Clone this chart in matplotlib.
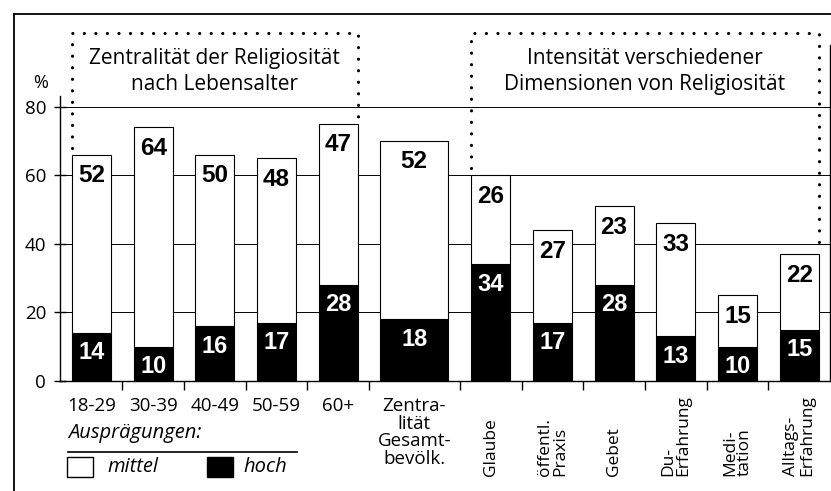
import matplotlib
matplotlib.use('Agg')
import matplotlib.pyplot as plt
from matplotlib import font_manager
from matplotlib.lines import Line2D
from matplotlib.patches import Rectangle

# data
labels = ['18-29', '30-39', '40-49', '50-59', '60+',
          'Zentra-\nlität\nGesamt-\nbevölk.',
          'Glaube', 'öffentl.\nPraxis', 'Gebet', 'Du-\nErfahrung',
          'Medi-\ntation', 'Alltags-\nErfahrung']
hoch = [14, 10, 16, 17, 28, 18, 34, 17, 28, 13, 10, 15]
mittel = [52, 64, 50, 48, 47, 52, 26, 27, 23, 33, 15, 22]
rotated = [False] * 6 + [True] * 6
group_titles = ['Zentralität der Religiosität\nnach Lebensalter',
                'Intensität verschiedener\nDimensionen von Religiosität']
legend_title = 'Ausprägungen:'
legend_names = ['mittel', 'hoch']

installed = {f.name for f in font_manager.fontManager.ttflist}
text_font = 'Open Sans' if 'Open Sans' in installed else 'DejaVu Sans'
num_font = 'Liberation Sans' if 'Liberation Sans' in installed else 'DejaVu Sans'
plt.rcParams['font.family'] = [text_font, 'DejaVu Sans']

W, H = 831, 491
def fx(px):
    return px / W
def fy(py):
    return 1 - py / H

fig = plt.figure(figsize=(W / 100, H / 100), dpi=100)
ax = fig.add_axes([fx(60), fy(381), fx(830) - fx(60), fy(20) - fy(381)])

# layout: bar centres and widths (age groups, total, dimensions)
centers = [0, 1, 2, 3, 4, 5.23, 6.47, 7.47, 8.47, 9.47, 10.47, 11.47]
widths = [0.63] * 5 + [1.1] + [0.63] * 6
totals = [h + m for h, m in zip(hoch, mittel)]

ax.bar(centers, hoch, width=widths, color='black', edgecolor='black', lw=0.8, zorder=3)
ax.bar(centers, mittel, bottom=hoch, width=widths, color='white', edgecolor='black',
       lw=0.8, zorder=3)

for c, h, t in zip(centers, hoch, totals):
    ax.annotate(str(t - h), xy=(c, t), xytext=(0, -21), textcoords='offset pixels',
                ha='center', va='center', fontsize=17.5, fontweight='bold',
                family=num_font, color='black', zorder=5)
    ax.annotate(str(h), xy=(c, h), xytext=(0, -20), textcoords='offset pixels',
                ha='center', va='center', fontsize=17, fontweight='bold',
                family=num_font, color='white', zorder=5)

# category labels
for c, lab, rot in zip(centers, labels, rotated):
    if rot:
        ax.annotate(lab, xy=(c, 0), xycoords=('data', 'axes fraction'),
                    xytext=(0, -95), textcoords='offset pixels', rotation=90,
                    rotation_mode='anchor', ha='left', va='center',
                    multialignment='left', fontsize=12.5, linespacing=0.95,
                    annotation_clip=False)
    else:
        ax.annotate(lab, xy=(c, 0), xycoords=('data', 'axes fraction'),
                    xytext=(0, -16), textcoords='offset pixels',
                    ha='center', va='top', fontsize=13.5, linespacing=0.98,
                    annotation_clip=False)

# ticks between the bars
edges = [(centers[i] + widths[i] / 2 + centers[i + 1] - widths[i + 1] / 2) / 2
         for i in range(len(centers) - 1)]
ax.set_xticks(edges)
ax.tick_params(axis='x', direction='out', length=6.5, width=1, labelbottom=False)
ax.set_xlim((60 - 91.5) / 61.7, (830 - 91.5) / 61.7)
ax.set_ylim(0, (381 - 20) / 3.43)
ax.set_yticks([0, 20, 40, 60, 80])
ax.tick_params(axis='y', direction='inout', length=8, width=1, labelsize=13.5, pad=6)
ax.yaxis.grid(True, color='black', lw=0.7)
ax.set_axisbelow(True)
for s in ['top', 'right']:
    ax.spines[s].set_visible(False)
ax.spines['left'].set_bounds(0, 83)
ax.spines['left'].set_linewidth(1)
ax.spines['bottom'].set_linewidth(1)
ax.text(-0.82, 87, '%', ha='center', va='center', fontsize=13, clip_on=False)

# dotted group boxes
dot = (0, (0.01, 3.6))
top_y = 101.5
for (i0, i1), title in zip([(0, 4), (6, 11)], group_titles):
    x0 = centers[i0] - widths[i0] / 2
    x1 = centers[i1] + widths[i1] / 2
    ax.plot([x0, x0, x1, x1], [totals[i0] + 2, top_y, top_y, totals[i1] + 2],
            ls=dot, lw=2.3, color='black', dash_capstyle='round', zorder=2,
            clip_on=False)
    ax.text((x0 + x1) / 2, 90.3, title, ha='center', va='center', fontsize=15,
            fontweight='medium', linespacing=1.3)

# legend
fig.text(fx(68), fy(433), legend_title, style='italic', va='center', fontsize=14.5)
fig.add_artist(Line2D([fx(68), fx(297)], [fy(452), fy(452)], color='black', lw=1.2))
fig.add_artist(Rectangle((fx(67), fy(477)), 26 / W, 20 / H, transform=fig.transFigure,
                         facecolor='white', edgecolor='black', lw=1))
fig.add_artist(Rectangle((fx(207), fy(477)), 26 / W, 20 / H, transform=fig.transFigure,
                         facecolor='black', edgecolor='black', lw=1))
fig.text(fx(107), fy(467), legend_names[0], style='italic', va='center', fontsize=14.5)
fig.text(fx(243), fy(467), legend_names[1], style='italic', va='center', fontsize=14.5)

# outer frame
fig.add_artist(Line2D([fx(14), fx(14)], [fy(14), fy(491)], color='black', lw=1.3))
fig.add_artist(Line2D([fx(14), fx(831)], [fy(14), fy(14)], color='black', lw=1.3))
fig.add_artist(Line2D([fx(830), fx(830)], [fy(45), fy(381)], color='black', lw=1))

fig.savefig('out.png', dpi=100)
